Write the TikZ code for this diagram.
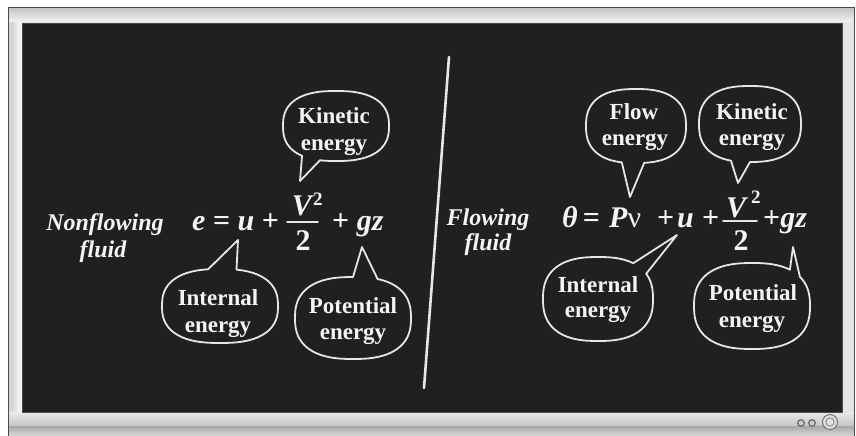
\documentclass[tikz,border=0pt]{standalone}
\usepackage{fontspec}
\setmainfont{Liberation Serif}
\definecolor{boardcol}{HTML}{202020}
\definecolor{chalkwhite}{HTML}{F4F4F4}
\definecolor{chalkline}{HTML}{E6E6E6}
\definecolor{framelight}{HTML}{E2E2E2}
\definecolor{framemid}{HTML}{C4C4C4}
\definecolor{frameedge}{HTML}{4A4A4A}
% #1 centre, #2 x radius, #3 y radius, #4 start angle, #5 end angle, #6 tail tip
\newcommand{\speechbubble}[6]{%
  \begin{scope}[shift={(#1)}]
  \draw[bubble] plot[domain=#4:#5, samples=90, variable=\t]
    ({#2*cos(\t)*pow(abs(cos(\t))+0.0005,-0.2)},
     {#3*sin(\t)*pow(abs(sin(\t))+0.0005,-0.2)}) -- (#6) -- cycle;
  \end{scope}}
\begin{document}
\begin{tikzpicture}[x=1pt,y=-1pt,
  chalk/.style={text=chalkwhite, inner sep=0pt},
  eqtext/.style={chalk, font=\fontsize{30}{30}\selectfont\bfseries},
  suptext/.style={chalk, font=\fontsize{19}{19}\selectfont\bfseries},
  labeltext/.style={chalk, font=\fontsize{24}{24}\selectfont\bfseries\itshape},
  bubbletext/.style={chalk, font=\fontsize{23}{23}\selectfont\bfseries},
  bubble/.style={draw=chalkline, line width=1.8pt, line join=round},
  chalkstroke/.style={draw=chalkline, line cap=round},
]
\useasboundingbox (0,0) rectangle (856,436);
% ---------- frame ----------
\fill[white] (0,0) rectangle (856,436);
\fill[framelight] (8,7) rectangle (854,436);
\shade[top color=framemid, bottom color=white!95!black] (8,8) rectangle (854,22);
\fill[framemid!70!white] (8,22) rectangle (14,412);
\fill[white!94!black] (17,22) rectangle (22,412);
\fill[white!90!black] (842,22) rectangle (853,412);
\shade[top color=white!92!black, bottom color=framemid] (8,412) rectangle (854,426);
\shade[top color=framemid!85!black, bottom color=white!85!black] (8,426) rectangle (854,436);
\draw[frameedge, line width=0.8pt] (8,436) -- (8,7) -- (854,7) -- (854,436);
\fill[boardcol] (22,23) rectangle (842,412);
\draw[black!70, line width=0.8pt] (22,23) rectangle (842,412);
% buttons
\coordinate (btnA) at (801,423);
\coordinate (btnB) at (812,423);
\coordinate (btnC) at (830,422);
\filldraw[fill=white!80!black, draw=black!60, line width=1.2pt] (btnA) circle[radius=3.3];
\filldraw[fill=white!80!black, draw=black!60, line width=1.2pt] (btnB) circle[radius=3.3];
\filldraw[fill=white!88!black, draw=black!55, line width=1pt] (btnC) circle[radius=7.5];
\draw[black!50, line width=0.8pt] (btnC) circle[radius=4.2];
% ---------- divider ----------
\coordinate (divtop) at (449,57);
\coordinate (divbot) at (424,388);
\draw[chalkstroke, line width=2.6pt] (divtop) -- (divbot);
% ---------- left side ----------
\node[labeltext, anchor=base] (nfl) at (105,230) {Nonflowing};
\node[labeltext, anchor=base] (nfl2) at (103,257) {fluid};
\node[eqtext, anchor=base west] (eqLa) at (192,230) {{\itshape e} = {\itshape u} +};
\node[eqtext, anchor=base] (vL) at (302,215) {\itshape V};
\node[suptext, anchor=base west] (sqL) at (313,205) {2};
\node[eqtext, anchor=base] (dL) at (303,250) {2};
\coordinate (barLa) at (287,222);
\coordinate (barLb) at (318,222);
\draw[chalkstroke, line width=1.7pt] (barLa) -- (barLb);
\node[eqtext, anchor=base west] (eqLc) at (332,230) {+ {\itshape gz}};
% bubbles left
\coordinate (kinLc) at (336,126);  \coordinate (kinLt) at (300,181);
\coordinate (intLc) at (220,306);  \coordinate (intLt) at (238,240);
\coordinate (potLc) at (353,318);  \coordinate (potLt) at (362,247);
\speechbubble{kinLc}{53}{35}{125}{463}{kinLt}
\speechbubble{intLc}{58}{37}{282}{622}{intLt}
\speechbubble{potLc}{58}{41}{290}{630}{potLt}
\node[bubbletext, anchor=base] (kinL1) at (334,123) {Kinetic};
\node[bubbletext, anchor=base] (kinL2) at (334,150) {energy};
\node[bubbletext, anchor=base] (intL1) at (218,305) {Internal};
\node[bubbletext, anchor=base] (intL2) at (218,332) {energy};
\node[bubbletext, anchor=base] (potL1) at (353,313) {Potential};
\node[bubbletext, anchor=base] (potL2) at (353,339) {energy};
% ---------- right side ----------
\node[labeltext, anchor=base] (fl) at (488,225) {Flowing};
\node[labeltext, anchor=base] (fl2) at (488,250) {fluid};
\node[eqtext, anchor=base west] (eqRa) at (562,227) {{\itshape θ}\,=};
\node[eqtext, anchor=base west] (eqRb) at (609,227) {{\itshape P}{\mdseries ν}};
\node[eqtext, anchor=base west] (eqRd) at (657,227) {+};
\node[eqtext, anchor=base west] (eqRe) at (677,227) {\itshape u};
\node[eqtext, anchor=base west] (eqRf) at (702,227) {+};
\node[eqtext, anchor=base] (vR) at (736,217) {\itshape V};
\node[suptext, anchor=base west] (sqR) at (751,203) {2};
\node[eqtext, anchor=base] (dR) at (741,250) {2};
\coordinate (barRa) at (723,221);
\coordinate (barRb) at (757,221);
\draw[chalkstroke, line width=1.7pt] (barRa) -- (barRb);
\node[eqtext, anchor=base west] (eqRc) at (763,227) {+{\itshape gz}};
% bubbles right
\coordinate (flowc) at (636,126);  \coordinate (flowt) at (630,197);
\coordinate (kinRc) at (750,124);  \coordinate (kinRt) at (738,183);
\coordinate (intRc) at (598,299);  \coordinate (intRt) at (677,235);
\coordinate (potRc) at (752,306);  \coordinate (potRt) at (793,247);
\speechbubble{flowc}{50}{37}{102}{444}{flowt}
\speechbubble{kinRc}{51}{38}{107}{450}{kinRt}
\speechbubble{intRc}{55}{42}{328}{665}{intRt}
\speechbubble{potRc}{58}{43}{322}{666}{potRt}
\node[bubbletext, anchor=base] (flow1) at (634,119) {Flow};
\node[bubbletext, anchor=base] (flow2) at (635,145) {energy};
\node[bubbletext, anchor=base] (kinR1) at (752,119) {Kinetic};
\node[bubbletext, anchor=base] (kinR2) at (752,145) {energy};
\node[bubbletext, anchor=base] (intR1) at (598,292) {Internal};
\node[bubbletext, anchor=base] (intR2) at (598,317) {energy};
\node[bubbletext, anchor=base] (potR1) at (753,300) {Potential};
\node[bubbletext, anchor=base] (potR2) at (752,327) {energy};
\end{tikzpicture}
\end{document}
